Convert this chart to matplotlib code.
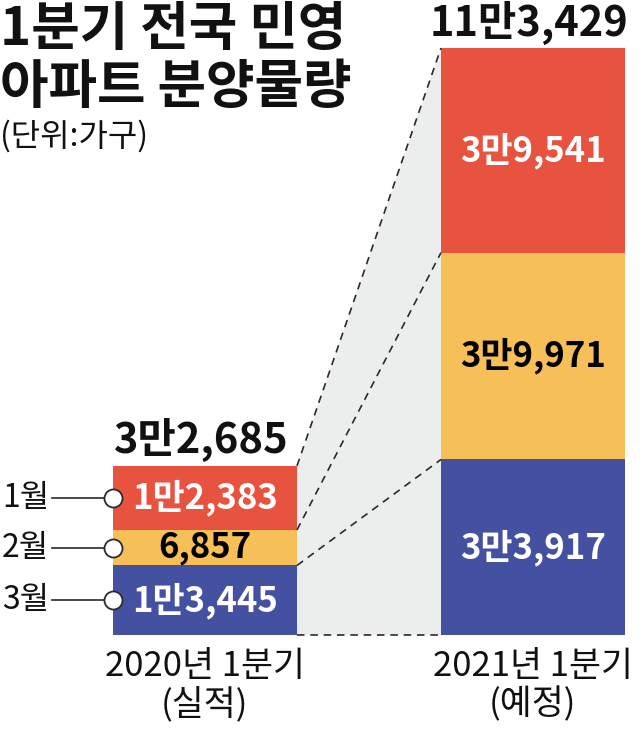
import numpy as np
import matplotlib
matplotlib.use("Agg")
import matplotlib.pyplot as plt

plt.rcParams["font.family"] = ["Noto Sans CJK KR", "DejaVu Sans"]

# data (bottom to top: 3월, 2월, 1월)
periods = ["2020년 1분기\n(실적)", "2021년 1분기\n(예정)"]
months = ["3월", "2월", "1월"]
values_2020 = [13445, 6857, 12383]
values_2021 = [33917, 39971, 39541]

COLORS = ["#4451a1", "#f7bf57", "#e8533f"]
TEXT_COLORS = ["white", "black", "white"]
GREY = "#eceeee"
LINE = "#2a2a2a"


def fmt(v):
    """12383 -> 1만2,383"""
    if v >= 10000:
        return f"{v // 10000}만{v % 10000:,}"
    return f"{v:,}"


W, H = 640, 731
fig = plt.figure(figsize=(W / 100, H / 100), dpi=100)
ax = fig.add_axes([0, 0, 1, 1])
ax.axis("off")

# vertical scale: bar base at pixel row 635, tallest bar top at row 48
base_row, top_row = 635, 48
total_max = sum(values_2021)
unit = total_max / (base_row - top_row)
ax.set_xlim(0, W)
ax.set_ylim(-(H - base_row) * unit, base_row * unit)

xs = [205, 533]
bw = 184
series = [values_2020, values_2021]

for i, (x, vals) in enumerate(zip(xs, series)):
    bottoms = np.concatenate([[0], np.cumsum(vals)[:-1]])
    ax.bar([x] * len(vals), vals, bottom=bottoms, width=bw, color=COLORS,
           linewidth=0, zorder=2)
    for v, b, tc in zip(vals, bottoms, TEXT_COLORS):
        ax.text(x, b + v / 2, fmt(v), ha="center", va="center", color=tc,
                fontsize=25, fontweight="bold", zorder=4)
    ax.annotate(fmt(sum(vals)), (x, sum(vals)), xytext=(-3, 9),
                textcoords="offset points", ha="center", va="baseline",
                fontsize=30, fontweight="bold", color="#111111")
    ax.annotate(periods[i], (x, 0), xytext=(0, -10),
                textcoords="offset points", ha="center", va="top",
                fontsize=25, color="#111111", linespacing=1.1)

# zoom wedge between the two bars
x0 = xs[0] + bw / 2
x1 = xs[1] - bw / 2
cum0 = np.concatenate([[0], np.cumsum(values_2020)])
cum1 = np.concatenate([[0], np.cumsum(values_2021)])
ax.fill([x0, x1, x1, x0], [0, 0, cum1[-1], cum0[-1]], color=GREY, lw=0, zorder=1)
for a, b in zip(cum0, cum1):
    ax.plot([x0, x1], [a, b], color=LINE, lw=1.2, ls=(0, (4.5, 3.5)), zorder=3)

# month callouts on the left bar
xl = xs[0] - bw / 2
bottoms0 = np.concatenate([[0], np.cumsum(values_2020)[:-1]])
for m, v, b in zip(months, values_2020, bottoms0):
    yc = b + v / 2
    ax.plot([52, xl], [yc, yc], color=LINE, lw=1.2, zorder=3)
    ax.plot(xl, yc, "o", ms=13, mfc="white", mec=LINE, mew=1.3, zorder=5)
    ax.text(49, yc, m, ha="right", va="center", fontsize=23, color="#111111")

# title
fig.text(0.0, 1 - 29 / H, "1분기 전국 민영", ha="left", va="center",
         fontsize=38, fontweight="bold", color="#111111")
fig.text(0.0, 1 - 88 / H, "아파트 분양물량", ha="left", va="center",
         fontsize=38, fontweight="bold", color="#111111")
fig.text(0.0, 1 - 136 / H, "(단위:가구)", ha="left", va="center",
         fontsize=23, color="#111111")

fig.savefig("out.png", dpi=100, facecolor="white")
